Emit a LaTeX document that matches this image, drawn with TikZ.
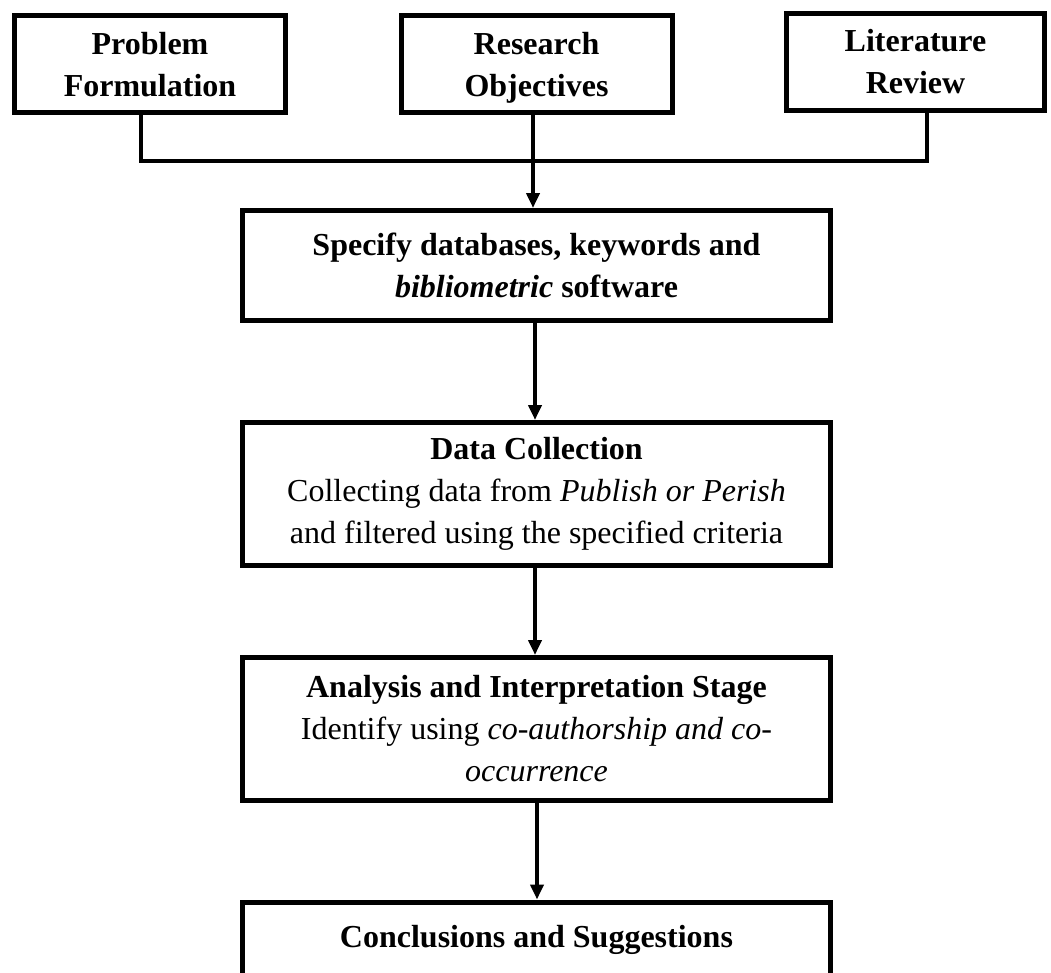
\documentclass[tikz,border=0pt]{standalone}
\usepackage{fontspec}
\setmainfont{Liberation Serif}
\usetikzlibrary{arrows.meta,positioning}

\newcommand{\flowfont}{\fontsize{32}{42}\selectfont}

\tikzset{
	topbox/.style={draw, line width=5pt, minimum width=271pt, minimum height=97pt,
		align=center, inner sep=0pt, text depth=0pt, font=\flowfont\bfseries},
	stagebox/.style={draw, line width=5pt, minimum width=588pt,
		align=center, inner sep=0pt, font=\flowfont},
	link/.style={line width=4pt},
	flow/.style={line width=4pt, -{Triangle[length=15pt,width=13pt]}}
}

\begin{document}
\begin{tikzpicture}[x=1pt,y=-1pt]

		\clip (0,0) rectangle (1051,972);
		% inputs
		\node[topbox] (prob) at (150,64) {Problem\\Formulation};
		\node[topbox] (obj) at (536.5,64) {Research\\Objectives};
		\node[topbox, minimum width=258pt] (lit) at (915.5,61.5) {Literature\\Review};
		% stages
		\node[stagebox, minimum height=110pt] (spec) at (536.5,265.5)
			{\textbf{Specify databases, keywords and}\\\textbf{\textit{bibliometric} software}};
		\node[stagebox, minimum height=143pt] (data) at (536.5,494)
			{\textbf{Data Collection}\\Collecting data from \textit{Publish or Perish}\\and filtered using the specified criteria};
		\node[stagebox, minimum height=143pt] (ana) at (536.5,729)
			{\textbf{Analysis and Interpretation Stage}\\Identify using \textit{co-authorship and co-}\\\textit{occurrence}};
		\node[stagebox, minimum height=76pt] (conc) at (536.5,940)
			{\textbf{Conclusions and Suggestions}};
		\coordinate (join) at (533,161);
		\draw[link] ([xshift=-9pt]prob.south) |- (join) -| ([xshift=11.5pt]lit.south);
		\draw[flow] ([xshift=-3.5pt]obj.south) -- ([xshift=-3.5pt]spec.north);
		\draw[flow] ([xshift=-1.5pt]spec.south) -- ([xshift=-1.5pt]data.north);
		\draw[flow] ([xshift=-1.5pt]data.south) -- ([xshift=-1.5pt]ana.north);
		\draw[flow] ([xshift=0.5pt]ana.south) -- ([xshift=0.5pt]conc.north);
\end{tikzpicture}
\end{document}
